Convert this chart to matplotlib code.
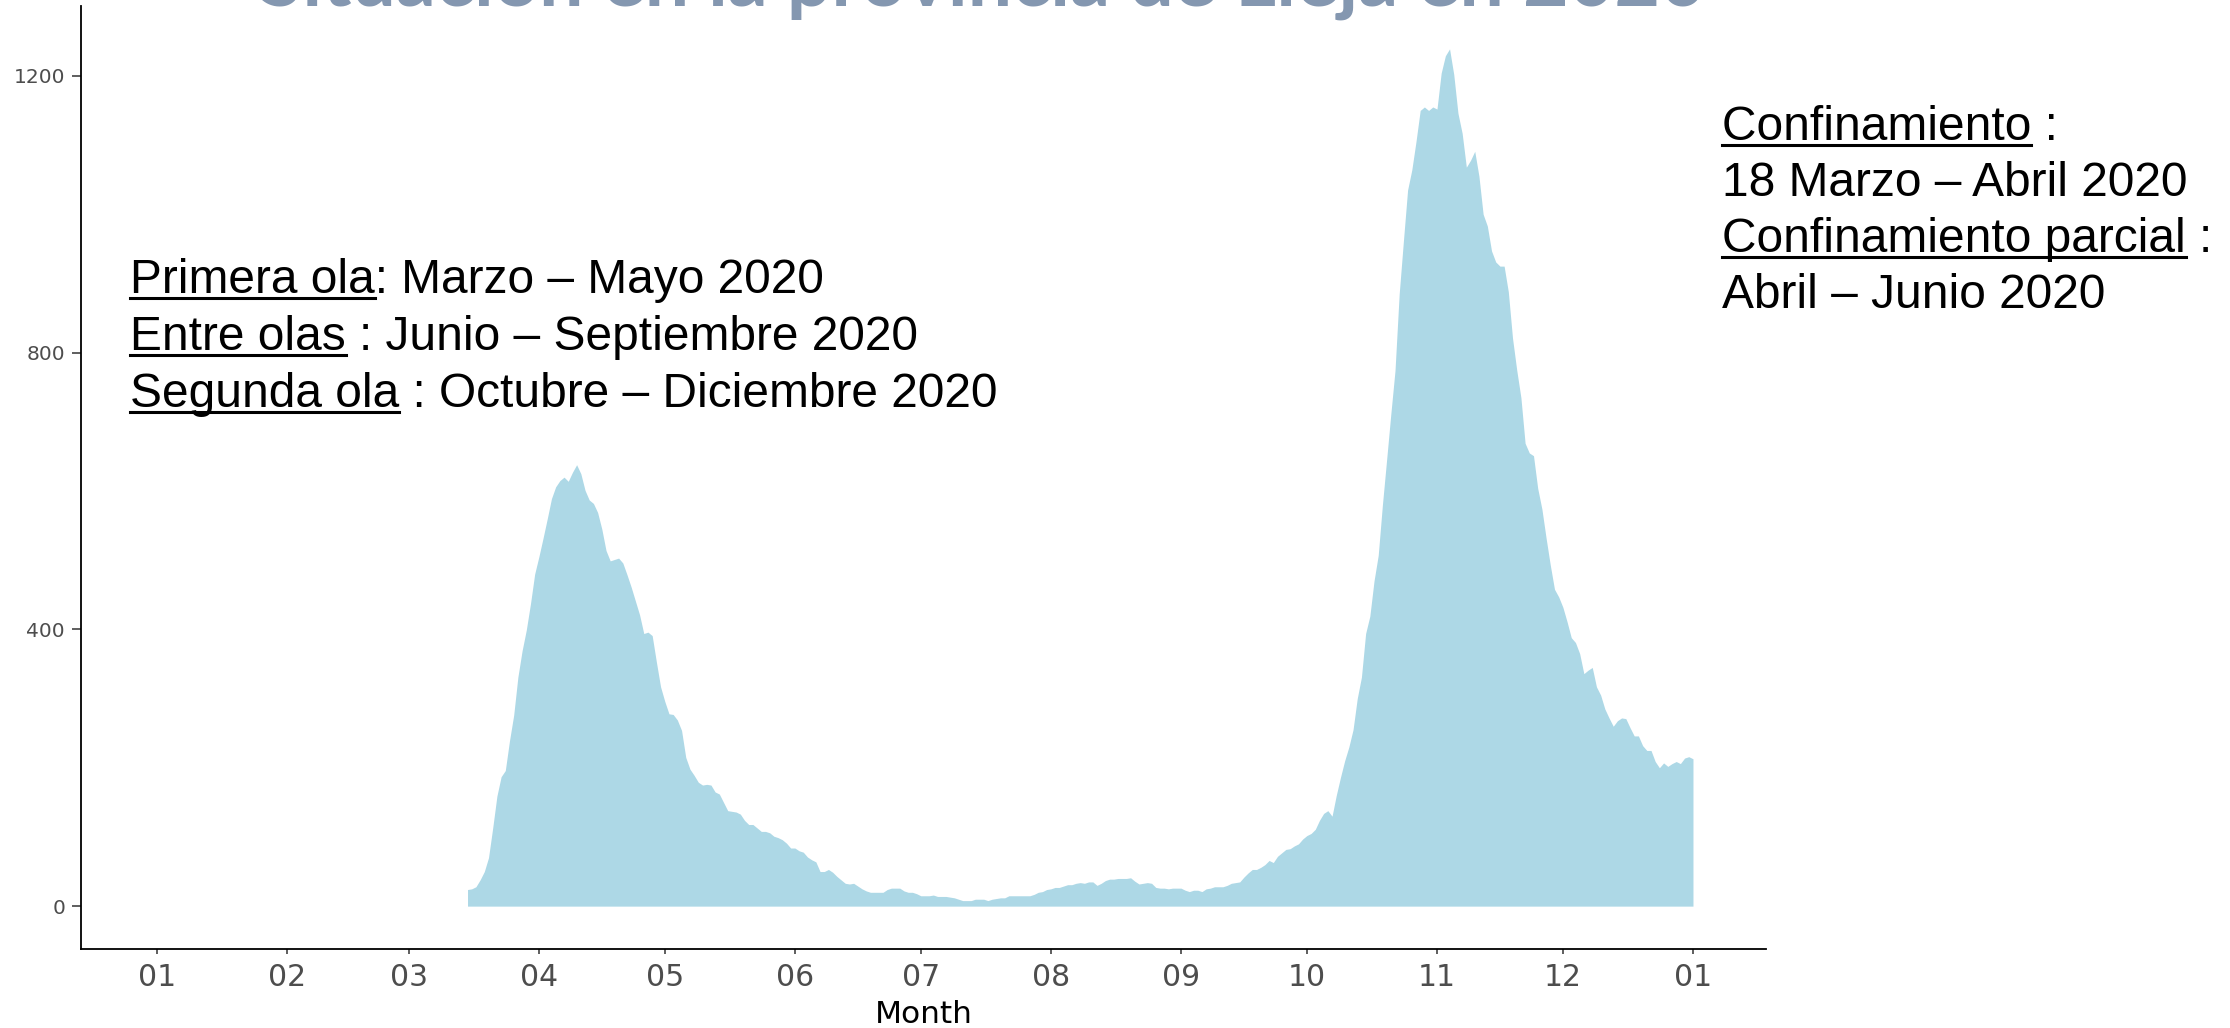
import matplotlib
matplotlib.use("Agg")
import matplotlib.pyplot as plt
import matplotlib.dates as mdates
from matplotlib.lines import Line2D
import pandas as pd

# casos diarios en la provincia de Lieja, del 15/03/2020 al 01/01/2021
start_date = "2020-03-15"
cases = [
    24, 25, 28, 38, 50, 70, 113, 159, 187, 196,
    239, 276, 331, 369, 399, 437, 480, 505, 532, 560,
    589, 606, 615, 620, 614, 627, 638, 625, 601, 587,
    582, 569, 545, 514, 499, 501, 503, 496, 479, 461,
    441, 421, 394, 396, 391, 353, 317, 296, 278, 277,
    269, 254, 215, 198, 189, 179, 175, 176, 175, 165,
    162, 150, 138, 137, 136, 133, 124, 118, 118, 113,
    108, 108, 106, 101, 99, 96, 91, 84, 84, 80,
    78, 71, 67, 64, 50, 50, 53, 49, 43, 38,
    33, 32, 33, 29, 25, 22, 20, 20, 20, 20,
    24, 26, 26, 26, 22, 20, 20, 18, 15, 15,
    15, 16, 14, 14, 14, 13, 12, 10, 8, 8,
    8, 10, 10, 10, 8, 10, 11, 12, 12, 15,
    15, 15, 15, 15, 15, 17, 20, 21, 24, 25,
    27, 27, 29, 31, 31, 33, 34, 33, 35, 35,
    30, 33, 37, 39, 39, 40, 40, 40, 41, 36,
    32, 33, 34, 33, 27, 26, 26, 25, 26, 26,
    26, 23, 21, 23, 23, 21, 25, 26, 28, 28,
    28, 30, 33, 34, 35, 42, 48, 53, 53, 56,
    60, 66, 63, 72, 77, 82, 83, 87, 90, 97,
    102, 105, 111, 124, 134, 138, 130, 160, 186, 210,
    230, 255, 300, 331, 394, 419, 470, 507, 580, 645,
    711, 774, 885, 961, 1035, 1064, 1105, 1150, 1155, 1150,
    1155, 1152, 1204, 1229, 1239, 1202, 1146, 1117, 1068, 1078,
    1091, 1055, 1000, 983, 947, 931, 925, 925, 888, 821,
    775, 735, 669, 655, 651, 604, 574, 532, 493, 458,
    447, 432, 411, 388, 381, 365, 336, 341, 345, 317,
    305, 285, 272, 260, 268, 272, 271, 258, 246, 246,
    232, 225, 225, 209, 200, 207, 202, 206, 209, 206,
    214, 216, 213,
]
y_ticks = [0, 400, 800, 1200]
x_start = "2020-01-01"
x_end = "2021-01-01"

title = "Situación en la provincia de Lieja en 2020"
# (parte subrayada, resto de la línea)
left_notes = [
    ("Primera ola", ": Marzo – Mayo 2020"),
    ("Entre olas", " : Junio – Septiembre 2020"),
    ("Segunda ola", " : Octubre – Diciembre 2020"),
]
right_notes = [
    ("Confinamiento", " :"),
    ("", "18 Marzo – Abril 2020"),
    ("Confinamiento parcial", " :"),
    ("", "Abril – Junio 2020"),
]

W, H = 2230, 1028
fig = plt.figure(figsize=(W / 100, H / 100), dpi=100)
ax = fig.add_axes([81 / W, 1 - 949 / H, (1766 - 81) / W, (949 - 6) / H])

dates = pd.date_range(start_date, periods=len(cases), freq="D")
ax.fill_between(dates, cases, 0, color="#ADD8E6", linewidth=0)

# margen a cada lado del año, en días
x0 = mdates.date2num(pd.Timestamp(x_start))
x1 = mdates.date2num(pd.Timestamp(x_end))
ax.set_xlim(x0 - 18.1, x1 + 17.4)
ymax = max(cases)
ax.set_ylim(-0.05 * ymax, 1.05 * ymax)

ax.set_xticks(pd.date_range(x_start, x_end, freq="MS"))
ax.xaxis.set_major_formatter(mdates.DateFormatter("%m"))
ax.set_yticks(y_ticks)

for side in ["top", "right"]:
    ax.spines[side].set_visible(False)
for side in ["left", "bottom"]:
    ax.spines[side].set_color("black")
    ax.spines[side].set_linewidth(1.3)

ax.tick_params(axis="x", length=3.8, width=1.1, color="#333333",
               labelsize=21.5, labelcolor="#4D4D4D", pad=6.5)
ax.tick_params(axis="y", length=6.5, width=1.1, color="#333333",
               labelsize=14.5, labelcolor="#4D4D4D", pad=5)

ax.set_xlabel("Month", fontsize=22.5, color="black")
ax.xaxis.set_label_coords(0.5, -74 / 943)
ax.xaxis.label.set_va("baseline")

renderer = fig.canvas.get_renderer()

# titulo (cortado por arriba en la diapositiva)
t = fig.text(982 / W, 1 - 6 / H, title, ha="center", va="baseline",
             fontsize=60, fontweight="bold", color="#8497B0", family="Lato")
tw = t.get_window_extent(renderer).width
t.set_fontsize(60 * 1447 / tw)

note_size = 34.5


def note(x_px, y_px, label, rest):
    fig.text(x_px / W, 1 - y_px / H, label + rest, fontsize=note_size,
             family="Liberation Sans", va="baseline", ha="left", color="black")
    if label:
        m = fig.text(x_px / W, 1 - y_px / H, label, fontsize=note_size,
                     family="Liberation Sans", va="baseline", ha="left")
        bb = m.get_window_extent(renderer)
        m.remove()
        yu = 1 - (y_px + 5) / H
        fig.add_artist(Line2D([bb.x0 / W, bb.x1 / W], [yu, yu],
                              transform=fig.transFigure, color="black", linewidth=2.2))


for i, (lab, rest) in enumerate(left_notes):
    note(130, 293 + 57 * i, lab, rest)

for i, (lab, rest) in enumerate(right_notes):
    note(1722, 140 + 56 * i, lab, rest)

fig.savefig("out.png", dpi=100)
